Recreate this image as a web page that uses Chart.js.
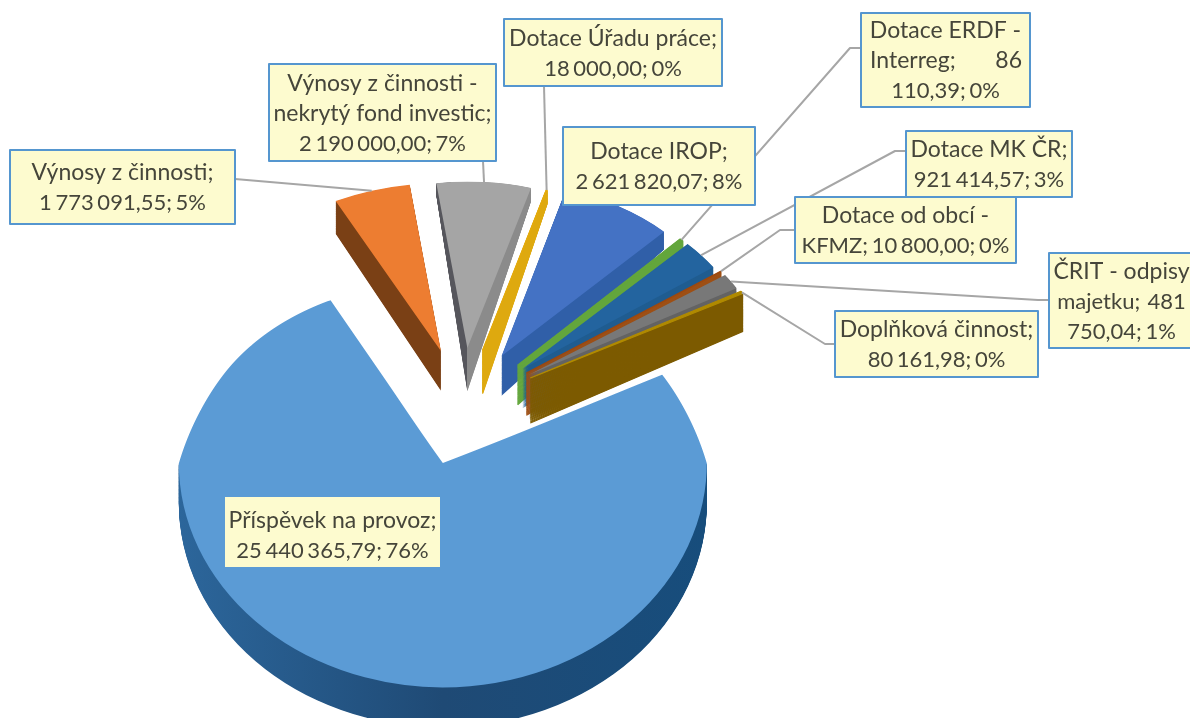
<!DOCTYPE html>
<html><head><meta charset="utf-8">
<style>html,body{margin:0;padding:0;background:#fff;overflow:hidden}canvas{display:block}</style>
<script src="https://cdn.jsdelivr.net/npm/chart.js@4"></script>
</head><body><canvas id="c" width="1190" height="718"></canvas>
<script>
// ---- data ----
const categories = ["Příspěvek na provoz","Výnosy z činnosti","Výnosy z činnosti - nekrytý fond investic","Dotace Úřadu práce","Dotace IROP","Dotace ERDF - Interreg","Dotace MK ČR","Dotace od obcí - KFMZ","ČRIT - odpisy majetku","Doplňková činnost"];
const values = [25440365.79,1773091.55,2190000,18000,2621820.07,86110.39,921414.57,10800,481750.04,80161.98];
const labelLines = [
 ["Příspěvek na provoz;","25 440 365,79; 76%"],
 ["Výnosy z činnosti;","1 773 091,55; 5%"],
 ["Výnosy z činnosti -","nekrytý fond investic;","2 190 000,00; 7%"],
 ["Dotace Úřadu práce;","18 000,00; 0%"],
 ["Dotace IROP;","2 621 820,07; 8%"],
 ["Dotace ERDF -",["Interreg;","86"],"110,39; 0%"],
 ["Dotace MK ČR;","921 414,57; 3%"],
 ["Dotace od obcí -","KFMZ; 10 800,00; 0%"],
 ["ČRIT - odpisy","majetku;  481","750,04; 1%"],
 ["Doplňková činnost;","80 161,98; 0%"]
];
// ---- style ----
const faceColors = ["#5b9bd5","#ed7d31","#a5a5a5","#e3aa0c","#4472c4","#63a63c","#23649f","#9e480e","#787878","#b08a00"];
const wallColors = [["#2c669b","#1f4a75","#174d7c"],["#7a4015","#5f3210"],["#56565c","#8b8b8b"],["#dea90f","#dea90f"],["#305fa8","#305fa8"],["#63a63c","#63a63c"],["#1f5c90","#1f5c90"],["#9e4f14","#9e4f14"],["#636363","#636363"],["#7c5a00","#7c5a00"]];
const RADIUS = 264, ROT = 61;
const centre = {x:465,y:407}, explode = 100, explodeX = .75, explodeY = .59;
const nudgeX = [0,-2,-3,-3,-1,0,0,0,0,0];
const kx = [1,.89,.885,.885,.885,.885,.885,.90,.91,.92];
const ky = [.69,.635,.63,.63,.655,.665,.67,.67,.66,.66];
const kyFront = .85, rearNarrow = .05, rearSpan = 91;
const wallA = [40,23,-22,-22,-23,-15,-5,5,10,13], wallB = [0,.048,.1875,.1875,.176,.15,.12,.1,.09,.085];
const drawOrder = [1,2,3,4,5,6,7,8,9,0];
const boxes = [[225,497,440,567,0],[10,150,235,224,1],[269,64,496,161,1],[504,19,722,86,1],[563,127,755,205,1],[861,13,1030,107,1],[906,131,1072,197,1],[795,197,1016,263,1],[1049,253,1200,348,1],[835,311,1038,377,1]];
// leader: box anchor, optional elbow; slice end computed from the arc element
const leaders = {1:[[235,179]],2:[[483,161]],3:[[544,86]],5:[[861,48],[850,48]],6:[[906,151],[895,151]],7:[[795,230],[780,230]],8:[[1049,300],[1038,300]],9:[[835,344],[825,344]]};
const FONT = '23px Lato, "Open Sans", sans-serif', FONT_NUM = '22px Lato, "Open Sans", sans-serif';

function geom(el,i){
  const p = el.getProps(['startAngle','endAngle','x','y'],true);
  const mid = (p.startAngle+p.endAngle)/2;
  return {mid, span:p.endAngle-p.startAngle, cx:p.x, cy:p.y,
    ax: centre.x + Math.cos(mid)*explode*explodeX + nudgeX[i],
    ay: Math.round(centre.y + Math.sin(mid)*explode*explodeY)};
}
function paint(ctx,el,g,sx,sy,fill,a,b){
  ctx.save();
  if(a!==undefined) ctx.transform(1,0,0,1+b,0,a);
  ctx.translate(g.ax,g.ay);
  ctx.scale(sx,sy);
  ctx.translate(-g.cx,-g.cy);
  const o = el.options, f = Object.create(o);
  f.backgroundColor = fill;
  if(g.span<.05){ f.borderWidth=1.4; f.borderColor=fill; f.borderAlign='center'; }
  el.options = f; el.draw(ctx); el.options = o;
  ctx.restore();
}
function paintSlice(ctx,el,g,i,fill,a,b,w,h){
  if(i!==0){ paint(ctx,el,g,kx[i],ky[i],fill,a,b); return; }
  const yc = Math.round(g.ay+(a||0));
  if(a===undefined){
    // rear part of the big slice: perspective narrows it row by row
    for(let y=yc-1;y>yc-200;y--){
      const d=Math.min(1,(yc-y)/rearSpan), s=1-rearNarrow*(1-(1-d)*(1-d));
      ctx.save(); ctx.beginPath(); ctx.rect(0,y,w,1); ctx.clip();
      paint(ctx,el,g,kx[i]*s,ky[i],fill); ctx.restore();
    }
  }
  ctx.save(); ctx.beginPath(); ctx.rect(0,yc,w,h); ctx.clip();
  paint(ctx,el,g,kx[i],kyFront,fill,a,b); ctx.restore();
}
const pie3d = {
  id:'pie3d',
  beforeDatasetDraw(chart){
    const ctx = chart.ctx, arcs = chart.getDatasetMeta(0).data;
    for(const i of drawOrder){
      const el = arcs[i], g = geom(el,i);
      const grad = ctx.createLinearGradient(g.cx-RADIUS,0,g.cx+RADIUS,0);
      const wc = wallColors[i];
      if(wc.length===2){ grad.addColorStop(0,wc[0]);grad.addColorStop(.5,wc[0]);grad.addColorStop(.5,wc[1]);grad.addColorStop(1,wc[1]); }
      else wc.forEach((c,n)=>grad.addColorStop(n/(wc.length-1),c));
      for(let t=1;t>0;t-=.02) paintSlice(ctx,el,g,i,grad,wallA[i]*t,wallB[i]*t,chart.width,chart.height);
      paintSlice(ctx,el,g,i,faceColors[i],undefined,undefined,chart.width,chart.height);
    }
    return false;
  },
  afterDraw(chart){
    const ctx = chart.ctx, arcs = chart.getDatasetMeta(0).data;
    ctx.save();
    ctx.strokeStyle='#a6a6a6'; ctx.lineWidth=2; ctx.lineJoin='round';
    for(const key of Object.keys(leaders)){
      const i=+key, el=arcs[i], g=geom(el,i), pts=leaders[key];
      const ex=g.ax+Math.cos(g.mid)*RADIUS*kx[i], ey=g.ay+Math.sin(g.mid)*RADIUS*ky[i];
      ctx.beginPath(); ctx.moveTo(pts[0][0],pts[0][1]);
      pts.slice(1).forEach(p=>ctx.lineTo(p[0],p[1]));
      ctx.lineTo(ex,ey); ctx.stroke();
    }
    ctx.textBaseline='middle';
    boxes.forEach((b,i)=>{
      const [x0,y0,x1,y1,bordered]=b;
      ctx.fillStyle='#fdfbcf'; ctx.fillRect(x0,y0,x1-x0,y1-y0);
      if(bordered){ctx.strokeStyle='#5596cf';ctx.lineWidth=2;ctx.strokeRect(x0,y0,x1-x0,y1-y0);}
      ctx.fillStyle='#45453a';
      const ls=labelLines[i], lh=30, top=(y0+y1)/2-(ls.length-1)*lh/2+(bordered?1:4);
      ls.forEach((l,n)=>{
        const yy=top+n*lh;
        if(Array.isArray(l)){
          ctx.font=FONT; ctx.wordSpacing='0px';
          ctx.textAlign='left'; ctx.fillText(l[0],x0+9,yy);
          ctx.textAlign='right'; ctx.fillText(l[1],x1-8,yy);
        } else {
          const num=/\d/.test(l);
          ctx.font=num?FONT_NUM:FONT; ctx.wordSpacing=num?'-2px':'0px';
          ctx.textAlign='center';
          ctx.fillText(l,(Math.min(x1,1190)+x0)/2+(x1>1190?2:0),yy);
        }
      });
    });
    ctx.restore();
  }
};
new Chart(document.getElementById('c'),{
  type:'pie',
  data:{labels:categories,datasets:[{data:values,backgroundColor:faceColors,borderWidth:0}]},
  options:{responsive:false,animation:false,rotation:ROT,radius:RADIUS,
    layout:{padding:0},
    plugins:{legend:{display:false},tooltip:{enabled:false}}},
  plugins:[pie3d]
});
</script></body></html>
